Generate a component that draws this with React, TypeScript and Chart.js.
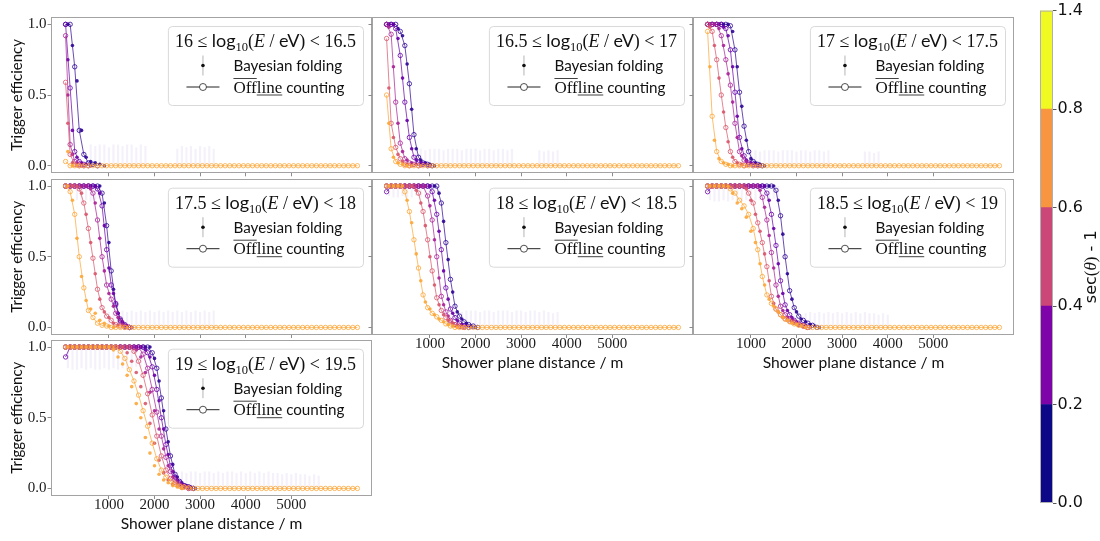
import React, { useEffect, useRef } from 'react';
import { Chart, registerables } from 'chart.js';

Chart.register(...registerables);

// ---------------- data ----------------
// shower plane distance of the Offline counting bins (m)
const DIST_OFFLINE = [
  50, 150, 250, 350, 450, 550, 650, 750, 850, 950,
  1050, 1150, 1250, 1350, 1450, 1550, 1650, 1750, 1850, 1950,
  2050, 2150, 2250, 2350, 2450, 2550, 2650, 2750, 2850, 2950,
  3050, 3150, 3250, 3350, 3450, 3550, 3650, 3750, 3850, 3950,
  4050, 4150, 4250, 4350, 4450, 4550, 4650, 4750, 4850, 4950,
  5050, 5150, 5250, 5350, 5450, 5550, 5650, 5750, 5850, 5950,
  6050, 6150, 6250, 6350, 6450,
];
// shower plane distance of the Bayesian folding points (m)
const DIST_BAYES = [
  100, 200, 300, 400, 500, 600, 700, 800, 900, 1000,
  1100, 1200, 1300, 1400, 1500, 1600, 1700, 1800, 1900, 2000,
  2100, 2200, 2300, 2400, 2500, 2600, 2700, 2800, 2900, 3000,
  3100, 3200, 3300, 3400, 3500, 3600, 3700, 3800, 3900, 4000,
  4100, 4200, 4300, 4400, 4500, 4600, 4700, 4800, 4900, 5000,
  5100, 5200, 5300, 5400, 5500, 5600, 5700, 5800, 5900, 6000,
  6100, 6200, 6300, 6400,
];

const X_TICKS = [1000, 2000, 3000, 4000, 5000];
const X_TICK_LABELS = ['1000', '2000', '3000', '4000', '5000'];
const Y_TICKS = [0, 0.5, 1];
const Y_TICK_LABELS = ['0.0', '0.5', '1.0'];

const ENERGY_LO = ['16', '16.5', '17', '17.5', '18', '18.5', '19'];
const ENERGY_HI = ['16.5', '17', '17.5', '18', '18.5', '19', '19.5'];

// zenith bins, from vertical (navy) to inclined (orange)
const ZENITH_COLORS = ['#2f0596', '#6a00a8', '#a82296', '#d8576b', '#fca636'];

const CB_LABELS = ['0.0', '0.2', '0.4', '0.6', '0.8', '1.4'];
const CB_COLORS = ['#0d0887', '#7e03a8', '#cc4778', '#f89540', '#f0f921'];
const CB_SEGMENTS = [1, 1, 1, 1, 1];

// Offline counting efficiencies, per panel: [navy, purple, magenta, salmon, orange]
const P1_OFFLINE = [
  [1, 1, 0.7, 0.25, 0.08, 0.02, 0.01, 0],
  [1, 0.55, 0.1, 0.03, 0.01, 0],
  [0.92, 0.15, 0.03, 0.01, 0],
  [0.59, 0.08, 0.01, 0],
  [0.03, 0, 0, 0, 0, 0, 0, 0, 0, 0,
    0, 0, 0, 0, 0, 0, 0, 0, 0, 0,
    0, 0, 0, 0, 0, 0, 0, 0, 0, 0,
    0, 0, 0, 0, 0, 0, 0, 0, 0, 0,
    0, 0, 0, 0, 0, 0, 0, 0, 0, 0,
    0, 0, 0, 0, 0, 0, 0, 0, 0, 0,
    0, 0, 0, 0, 0],
];
const P2_OFFLINE = [
  [1, 1, 1, 0.95, 0.85, 0.58, 0.22, 0.06, 0.02, 0.01, 0],
  [1, 1, 0.97, 0.78, 0.45, 0.2, 0.06, 0.02, 0.01, 0],
  [1, 0.93, 0.45, 0.16, 0.05, 0.02, 0.01, 0],
  [0.9, 0.3, 0.13, 0.05, 0.01, 0],
  [0.5, 0.12, 0.03, 0.01, 0, 0, 0, 0, 0, 0,
    0, 0, 0, 0, 0, 0, 0, 0, 0, 0,
    0, 0, 0, 0, 0, 0, 0, 0, 0, 0,
    0, 0, 0, 0, 0, 0, 0, 0, 0, 0,
    0, 0, 0, 0, 0, 0, 0, 0, 0, 0,
    0, 0, 0, 0, 0, 0, 0, 0, 0, 0,
    0, 0, 0, 0, 0],
];
const P3_OFFLINE = [
  [1, 1, 1, 1, 1, 0.99, 0.82, 0.52, 0.28, 0.1, 0.03, 0.01, 0],
  [1, 1, 1, 1, 0.97, 0.82, 0.52, 0.2, 0.07, 0.02, 0.01, 0],
  [1, 1, 1, 0.92, 0.75, 0.57, 0.3, 0.1, 0.04, 0.01, 0],
  [1, 0.95, 0.75, 0.5, 0.27, 0.1, 0.03, 0.01, 0],
  [0.95, 0.35, 0.1, 0.03, 0.01, 0, 0, 0, 0, 0,
    0, 0, 0, 0, 0, 0, 0, 0, 0, 0,
    0, 0, 0, 0, 0, 0, 0, 0, 0, 0,
    0, 0, 0, 0, 0, 0, 0, 0, 0, 0,
    0, 0, 0, 0, 0, 0, 0, 0, 0, 0,
    0, 0, 0, 0, 0, 0, 0, 0, 0, 0,
    0, 0, 0, 0, 0],
];
const P4_OFFLINE = [
  [1, 1, 1, 1, 1, 1, 1, 1, 0.95, 0.72, 0.4, 0.16, 0.05, 0.01, 0],
  [1, 1, 1, 1, 1, 1, 1, 0.98, 0.86, 0.55, 0.3, 0.17, 0.06, 0.02, 0],
  [1, 1, 1, 1, 1, 1, 0.95, 0.76, 0.5, 0.3, 0.2, 0.1, 0.04, 0.01, 0],
  [1, 1, 1, 0.98, 0.88, 0.7, 0.49, 0.27, 0.14, 0.08, 0.05, 0.02, 0.01, 0],
  [1, 0.96, 0.8, 0.5, 0.28, 0.12, 0.07, 0.03, 0.015, 0.01,
    0, 0, 0, 0, 0, 0, 0, 0, 0, 0,
    0, 0, 0, 0, 0, 0, 0, 0, 0, 0,
    0, 0, 0, 0, 0, 0, 0, 0, 0, 0,
    0, 0, 0, 0, 0, 0, 0, 0, 0, 0,
    0, 0, 0, 0, 0, 0, 0, 0, 0, 0,
    0, 0, 0, 0, 0],
];
const P5_OFFLINE = [
  [1, 1, 1, 1, 1, 1, 1, 1, 1, 1, 1, 1, 0.88, 0.6, 0.34, 0.15, 0.08, 0.04, 0.02, 0.01, 0],
  [0.96, 1, 1, 1, 1, 1, 1, 1, 1, 1, 0.96, 0.8, 0.55, 0.28, 0.13, 0.07, 0.03, 0.01, 0],
  [1, 1, 1, 1, 1, 1, 1, 1, 1, 0.93, 0.76, 0.5, 0.22, 0.11, 0.05, 0.02, 0.01, 0],
  [1, 1, 1, 1, 1, 1, 1, 0.95, 0.82, 0.62, 0.4, 0.21, 0.12, 0.07, 0.04, 0.02, 0.01, 0],
  [1, 1, 1, 1, 0.96, 0.82, 0.62, 0.42, 0.23, 0.14,
    0.1, 0.075, 0.05, 0.025, 0.01, 0, 0, 0, 0, 0,
    0, 0, 0, 0, 0, 0, 0, 0, 0, 0,
    0, 0, 0, 0, 0, 0, 0, 0, 0, 0,
    0, 0, 0, 0, 0, 0, 0, 0, 0, 0,
    0, 0, 0, 0, 0, 0, 0, 0, 0, 0,
    0, 0, 0, 0, 0],
];
const P6_OFFLINE = [
  [1, 1, 1, 1, 1, 1, 1, 1, 1, 1, 1, 1, 1, 1, 1, 0.97, 0.79, 0.5, 0.26, 0.14, 0.08, 0.05, 0.03, 0.015, 0],
  [0.96, 1, 1, 1, 1, 1, 1, 1, 1, 1, 1, 1, 1, 0.95, 0.8, 0.58, 0.33, 0.16, 0.09, 0.05, 0.03, 0.015, 0],
  [1, 1, 1, 1, 1, 1, 1, 1, 1, 1, 1, 1, 0.92, 0.76, 0.53, 0.3, 0.15, 0.09, 0.06, 0.04, 0.02, 0.01, 0],
  [1, 1, 1, 1, 1, 1, 1, 1, 1, 0.95, 0.88, 0.74, 0.6, 0.43, 0.22, 0.13, 0.09, 0.06, 0.045, 0.035, 0.02, 0.01, 0],
  [1, 1, 1, 1, 1, 0.98, 0.95, 0.9, 0.86, 0.8,
    0.7, 0.55, 0.36, 0.23, 0.17, 0.13, 0.09, 0.06, 0.04, 0.025,
    0.015, 0.01, 0, 0, 0, 0, 0, 0, 0, 0,
    0, 0, 0, 0, 0, 0, 0, 0, 0, 0,
    0, 0, 0, 0, 0, 0, 0, 0, 0, 0,
    0, 0, 0, 0, 0, 0, 0, 0, 0, 0,
    0, 0, 0, 0, 0],
];
const P7_OFFLINE = [
  [1, 1, 1, 1, 1, 1, 1, 1, 1, 1, 1, 1, 1, 1, 1, 1, 1, 1, 1, 0.96, 0.85, 0.64, 0.42, 0.23, 0.1, 0.05, 0.02, 0.01, 0],
  [0.93, 1, 1, 1, 1, 1, 1, 1, 1, 1, 1, 1, 1, 1, 1, 1, 1, 1, 0.96, 0.86, 0.7, 0.5, 0.31, 0.16, 0.08, 0.04, 0.02, 0.01, 0],
  [1, 1, 1, 1, 1, 1, 1, 1, 1, 1, 1, 1, 1, 1, 1, 1, 1, 0.95, 0.85, 0.7, 0.54, 0.37, 0.22, 0.12, 0.06, 0.03, 0.015, 0],
  [1, 1, 1, 1, 1, 1, 1, 1, 1, 1, 1, 1, 1, 1, 1, 0.97, 0.9, 0.8, 0.67, 0.52, 0.37, 0.23, 0.13, 0.07, 0.04, 0.02, 0.01, 0],
  [1, 1, 1, 1, 1, 1, 1, 1, 1, 1,
    1, 1, 0.97, 0.92, 0.84, 0.76, 0.66, 0.55, 0.44, 0.32,
    0.21, 0.13, 0.08, 0.05, 0.03, 0.015, 0.01, 0.005, 0, 0,
    0, 0, 0, 0, 0, 0, 0, 0, 0, 0,
    0, 0, 0, 0, 0, 0, 0, 0, 0, 0,
    0, 0, 0, 0, 0, 0, 0, 0, 0, 0,
    0, 0, 0, 0, 0],
];

// Bayesian folding efficiencies, per panel: [navy, purple, magenta, salmon, orange]
const P1_BAYES = [
  [1, 0.85, 0.6, 0.25, 0.06, 0.03, 0.02, 0.01, 0],
  [0.75, 0.25, 0.06, 0.02, 0.01, 0],
  [0.5, 0.08, 0.02, 0],
  [0.3, 0.02, 0],
  [0.1, 0],
];
const P2_BAYES = [
  [1, 1, 0.97, 0.92, 0.72, 0.4, 0.12, 0.04, 0.02, 0.01, 0],
  [1, 1, 0.9, 0.62, 0.32, 0.12, 0.04, 0.02, 0.01, 0],
  [0.98, 0.7, 0.3, 0.1, 0.04, 0.02, 0.01, 0],
  [0.55, 0.2, 0.08, 0.03, 0.01, 0],
  [0.3, 0.06, 0.02, 0.01, 0],
];
const P3_BAYES = [
  [1, 1, 1, 1, 1, 0.95, 0.7, 0.42, 0.18, 0.05, 0.02, 0.01, 0],
  [1, 1, 1, 0.98, 0.92, 0.7, 0.35, 0.12, 0.04, 0.02, 0.01, 0],
  [1, 1, 0.97, 0.85, 0.65, 0.45, 0.2, 0.07, 0.03, 0.01, 0],
  [0.98, 0.85, 0.62, 0.38, 0.17, 0.06, 0.02, 0.01, 0],
  [0.7, 0.18, 0.05, 0.02, 0.01, 0],
];
const P4_BAYES = [
  [1, 1, 1, 1, 1, 1, 1, 1, 0.88, 0.6, 0.27, 0.1, 0.03, 0.01, 0],
  [1, 1, 1, 1, 1, 1, 1, 0.95, 0.72, 0.42, 0.24, 0.1, 0.04, 0.01, 0],
  [1, 1, 1, 1, 1, 0.98, 0.88, 0.63, 0.4, 0.24, 0.15, 0.07, 0.02, 0.01, 0],
  [1, 1, 1, 0.95, 0.8, 0.6, 0.38, 0.2, 0.11, 0.07, 0.03, 0.015, 0.01, 0],
  [1, 0.9, 0.63, 0.36, 0.19, 0.13, 0.1, 0.05, 0.03, 0.01, 0],
];
const P5_BAYES = [
  [1, 1, 1, 1, 1, 1, 1, 1, 1, 1, 1, 0.95, 0.75, 0.48, 0.25, 0.11, 0.06, 0.03, 0.01, 0],
  [1, 1, 1, 1, 1, 1, 1, 1, 1, 1, 0.9, 0.68, 0.4, 0.2, 0.1, 0.05, 0.02, 0.01, 0],
  [1, 1, 1, 1, 1, 1, 1, 1, 1, 0.86, 0.62, 0.35, 0.16, 0.08, 0.03, 0.01, 0],
  [1, 1, 1, 1, 1, 1, 0.97, 0.88, 0.72, 0.5, 0.3, 0.16, 0.09, 0.05, 0.03, 0.01, 0],
  [1, 1, 1, 1, 0.9, 0.74, 0.52, 0.33, 0.18, 0.13, 0.09, 0.06, 0.04, 0.02, 0.01, 0],
];
const P6_BAYES = [
  [1, 1, 1, 1, 1, 1, 1, 1, 1, 1, 1, 1, 1, 1, 1, 0.9, 0.66, 0.38, 0.2, 0.11, 0.06, 0.04, 0.02, 0.01, 0],
  [1, 1, 1, 1, 1, 1, 1, 1, 1, 1, 1, 1, 1, 0.9, 0.7, 0.45, 0.24, 0.12, 0.07, 0.04, 0.02, 0.01, 0],
  [1, 1, 1, 1, 1, 1, 1, 1, 1, 1, 1, 0.97, 0.85, 0.65, 0.42, 0.22, 0.12, 0.07, 0.05, 0.03, 0.015, 0],
  [1, 1, 1, 1, 1, 1, 1, 1, 0.98, 0.9, 0.8, 0.68, 0.52, 0.33, 0.17, 0.11, 0.07, 0.05, 0.04, 0.025, 0.015, 0],
  [1, 1, 1, 1, 1, 0.95, 0.88, 0.84, 0.78, 0.68, 0.6, 0.45, 0.3, 0.2, 0.15, 0.11, 0.07, 0.05, 0.03, 0.02, 0.01, 0],
];
const P7_BAYES = [
  [1, 1, 1, 1, 1, 1, 1, 1, 1, 1, 1, 1, 1, 1, 1, 1, 1, 1, 1, 0.92, 0.76, 0.55, 0.33, 0.17, 0.08, 0.04, 0.02, 0.01, 0],
  [1, 1, 1, 1, 1, 1, 1, 1, 1, 1, 1, 1, 1, 1, 1, 1, 1, 0.98, 0.93, 0.8, 0.62, 0.42, 0.24, 0.12, 0.06, 0.03, 0.01, 0],
  [1, 1, 1, 1, 1, 1, 1, 1, 1, 1, 1, 1, 1, 1, 1, 0.98, 0.93, 0.82, 0.68, 0.55, 0.42, 0.28, 0.16, 0.08, 0.04, 0.02, 0.01, 0],
  [1, 1, 1, 1, 1, 1, 1, 1, 1, 1, 1, 1, 1, 0.96, 0.9, 0.82, 0.72, 0.6, 0.46, 0.32, 0.2, 0.11, 0.06, 0.03, 0.015, 0],
  [1, 1, 1, 1, 1, 1, 1, 1, 1, 1, 0.98, 0.93, 0.88, 0.8, 0.72, 0.6, 0.5, 0.36, 0.25, 0.16, 0.1, 0.06, 0.04, 0.02, 0.01, 0],
];

// upper end of the Bayesian uncertainty bars on the zero tail (aligned with DIST_BAYES)
const P1_ERR_HI = [0, 0, 0, 0, 0, 0.15, 0.14, 0.15, 0.15, 0.13, 0.15, 0.15, 0.14, 0.15, 0.15, 0.13, 0.15, 0.14,
  0, 0, 0, 0, 0, 0, 0.12, 0.14, 0.13, 0.14, 0.12, 0.14, 0.13, 0.14, 0.12];
const P2_ERR_HI = [0, 0, 0, 0, 0, 0, 0.12, 0.12, 0.11, 0.12, 0.12, 0.12, 0.11, 0.12, 0.12, 0.12, 0.11, 0.12, 0.12, 0.12,
  0.11, 0.12, 0.12, 0.11, 0.12, 0.12, 0.11, 0.12, 0, 0, 0, 0, 0, 0.11, 0.1, 0.11, 0.1, 0.11];
const P3_ERR_HI = [0, 0, 0, 0, 0, 0, 0, 0, 0, 0.11, 0.11, 0.1, 0.11, 0.11, 0.11, 0.1, 0.11, 0.11, 0.11, 0.1,
  0.11, 0.11, 0.1, 0.11, 0.11, 0.1, 0.11, 0, 0, 0, 0, 0, 0, 0, 0.1, 0.1, 0.09, 0.1];
const P4_ERR_HI = [0, 0, 0, 0, 0, 0, 0, 0, 0, 0.11, 0.12, 0.11, 0.12, 0.11, 0.12, 0.11, 0.12, 0.11, 0.12, 0.11,
  0.12, 0.11, 0.12, 0.11, 0.12, 0.11, 0.12, 0.11, 0.12, 0.11, 0.12, 0.11, 0.12];
const P5_ERR_HI = [0, 0, 0, 0, 0, 0, 0, 0, 0, 0, 0, 0, 0, 0, 0.12, 0.12, 0.11, 0.12, 0.12, 0.12,
  0.11, 0.12, 0.12, 0.11, 0.12, 0.12, 0.12, 0.11, 0.12, 0.12, 0.11, 0.12, 0.12, 0.11, 0.12, 0.11, 0.1, 0.11];
const P6_ERR_HI = [0, 0, 0, 0, 0, 0, 0, 0, 0, 0, 0, 0, 0, 0, 0, 0, 0, 0, 0, 0,
  0, 0.1, 0.11, 0.1, 0.11, 0.1, 0.11, 0.1, 0.11, 0.1, 0.11, 0.1, 0.11, 0.1, 0.11, 0.1, 0.1, 0.09, 0.1, 0.09];
const P7_ERR_HI = [0, 0, 0, 0, 0, 0, 0, 0, 0, 0, 0, 0, 0, 0, 0, 0, 0, 0, 0, 0,
  0, 0, 0, 0, 0.12, 0.12, 0.11, 0.12, 0.12, 0.11, 0.12, 0.12, 0.11, 0.12, 0.11, 0.12, 0.12, 0.11, 0.12, 0.11,
  0.12, 0.11, 0.12, 0.11, 0.12, 0.11, 0.11, 0.1, 0.11, 0.1, 0.11, 0.1, 0.1, 0.09, 0.1, 0.09];

// lower end of the Bayesian uncertainty bars on the plateau (aligned with DIST_BAYES)
const P1_ERR_LO: number[] = [];
const P2_ERR_LO: number[] = [];
const P3_ERR_LO: number[] = [];
const P4_ERR_LO = [1, 1, 0.9, 0.88, 0.9, 0.89, 0.9, 0.92];
const P5_ERR_LO = [0.93, 0.92, 0.92, 0.93, 0.92, 0.92, 0.93, 0.92, 0.93, 0.92, 0.93, 0.94];
const P6_ERR_LO = [0.9, 0.89, 0.89, 0.9, 0.89, 0.9, 0.89, 0.89, 0.9, 0.89, 0.9, 0.9, 0.89, 0.9, 0.91, 0.92];
const P7_ERR_LO = [0.85, 0.84, 0.84, 0.85, 0.84, 0.85, 0.84, 0.84, 0.85, 0.84, 0.85, 0.84, 0.85, 0.84, 0.85, 0.86, 0.86, 0.87, 0.88];

const OFFLINE = [P1_OFFLINE, P2_OFFLINE, P3_OFFLINE, P4_OFFLINE, P5_OFFLINE, P6_OFFLINE, P7_OFFLINE];
const BAYES = [P1_BAYES, P2_BAYES, P3_BAYES, P4_BAYES, P5_BAYES, P6_BAYES, P7_BAYES];
const ERR_HI = [P1_ERR_HI, P2_ERR_HI, P3_ERR_HI, P4_ERR_HI, P5_ERR_HI, P6_ERR_HI, P7_ERR_HI];
const ERR_LO = [P1_ERR_LO, P2_ERR_LO, P3_ERR_LO, P4_ERR_LO, P5_ERR_LO, P6_ERR_LO, P7_ERR_LO];

// ---------------- layout ----------------
const PAGE_W = 1100;
const PAGE_H = 541;
const COL_LEFT = [51, 372, 693];
const COL_W = 321;
const ROW_TOP = [17.3, 179, 340];
const ROW_H = 155.5;
const X_MIN = -270;
const X_MAX = 6770;
const Y_MIN = -0.05;
const Y_MAX = 1.05;

const SERIF = '"Liberation Serif", "DejaVu Serif", serif';
const SANS = 'Lato, "DejaVu Sans", sans-serif';
const FRAME = '#a3a3a3';

type Piece = { t: string; f: string; dy?: number; over?: boolean; under?: boolean };

function piecesWidth(ctx: CanvasRenderingContext2D, pieces: Piece[]) {
  let w = 0;
  for (const p of pieces) {
    ctx.font = p.f;
    w += ctx.measureText(p.t).width;
  }
  return w;
}

function drawPieces(ctx: CanvasRenderingContext2D, pieces: Piece[], x: number, y: number) {
  ctx.textBaseline = 'alphabetic';
  ctx.textAlign = 'left';
  let cx = x;
  for (const p of pieces) {
    ctx.font = p.f;
    const w = ctx.measureText(p.t).width;
    ctx.fillText(p.t, cx, y + (p.dy || 0));
    if (p.over || p.under) {
      ctx.save();
      ctx.strokeStyle = '#111';
      ctx.lineWidth = 0.8;
      ctx.beginPath();
      const ly = p.over ? y - 14 : y + 2.5;
      ctx.moveTo(cx, ly);
      ctx.lineTo(cx + w, ly);
      ctx.stroke();
      ctx.restore();
    }
    cx += w;
  }
}

function roundRectPath(ctx: CanvasRenderingContext2D, x: number, y: number, w: number, h: number, r: number) {
  ctx.beginPath();
  ctx.moveTo(x + r, y);
  ctx.lineTo(x + w - r, y);
  ctx.arcTo(x + w, y, x + w, y + r, r);
  ctx.lineTo(x + w, y + h - r);
  ctx.arcTo(x + w, y + h, x + w - r, y + h, r);
  ctx.lineTo(x + r, y + h);
  ctx.arcTo(x, y + h, x, y + h - r, r);
  ctx.lineTo(x, y + r);
  ctx.arcTo(x, y, x + r, y, r);
  ctx.closePath();
}

function drawLegend(ctx: CanvasRenderingContext2D, ca: any, p: number) {
  const fSer = `18px ${SERIF}`;
  const fSans = `18px ${SANS}`;
  const title: Piece[] = [
    { t: ENERGY_LO[p] + ' ', f: fSer },
    { t: '\u2264', f: fSer },
    { t: ' ', f: fSer },
    { t: 'log', f: fSans },
    { t: '10', f: `12.5px ${SERIF}`, dy: 4 },
    { t: '(', f: fSer },
    { t: 'E', f: `italic 18px ${SERIF}` },
    { t: ' / ', f: fSer },
    { t: 'eV', f: fSans },
    { t: ')', f: fSer },
    { t: ' < ', f: fSer },
    { t: ENERGY_HI[p], f: fSer },
  ];
  const e1: Piece[] = [{ t: 'Bayesian folding', f: `15.2px ${SANS}` }];
  const e2: Piece[] = [
    { t: 'Off', f: `17px ${SERIF}`, over: true },
    { t: 'line', f: `17px ${SERIF}`, under: true },
    { t: ' counting', f: `15.2px ${SANS}` },
  ];
  const tw = piecesWidth(ctx, title);
  const ew = Math.max(piecesWidth(ctx, e1), piecesWidth(ctx, e2));
  const blockW = 47 + ew;
  const boxW = Math.max(tw, blockW) + 14;
  const boxH = 79;
  const right = ca.right - 9;
  const top = ca.top + 8.7;
  const left = right - boxW;
  ctx.save();
  roundRectPath(ctx, left + 0.5, top + 0.5, boxW, boxH, 4);
  ctx.fillStyle = 'rgba(255,255,255,0.8)';
  ctx.fill();
  ctx.strokeStyle = '#d9d9d9';
  ctx.lineWidth = 1;
  ctx.stroke();
  ctx.fillStyle = '#111';
  const cx = left + boxW / 2;
  drawPieces(ctx, title, cx - tw / 2, top + 21);
  const bx = cx - blockW / 2;
  const hx = bx + 16.5;
  // Bayesian folding handle
  const y1 = top + 39.5;
  ctx.strokeStyle = '#b5b5b5';
  ctx.lineWidth = 1;
  ctx.beginPath();
  ctx.moveTo(hx, y1 - 10);
  ctx.lineTo(hx, y1 + 10);
  ctx.stroke();
  ctx.fillStyle = '#111';
  ctx.beginPath();
  ctx.arc(hx, y1, 1.8, 0, Math.PI * 2);
  ctx.fill();
  drawPieces(ctx, e1, bx + 47, y1 + 5.5);
  // Offline counting handle
  const y2 = top + 61;
  ctx.strokeStyle = '#222';
  ctx.lineWidth = 1;
  ctx.beginPath();
  ctx.moveTo(bx, y2);
  ctx.lineTo(bx + 33, y2);
  ctx.stroke();
  ctx.beginPath();
  ctx.arc(hx, y2, 3.5, 0, Math.PI * 2);
  ctx.fillStyle = '#fff';
  ctx.fill();
  ctx.lineWidth = 0.8;
  ctx.stroke();
  ctx.fillStyle = '#111';
  drawPieces(ctx, e2, bx + 47, y2 + 5.5);
  ctx.restore();
}

function panelConfig(p: number) {
  const row = Math.floor(p / 3);
  const col = p % 3;
  const L = COL_LEFT[col];
  const R = L + COL_W;
  const T = ROW_TOP[row];
  const B = T + ROW_H;
  const showX = p >= 4;
  const showY = col === 0;
  const YW = showY ? 46 : 4;
  const XH = showX ? 38 : 4;

  const datasets: any[] = [];
  for (let k = 4; k >= 0; k--) {
    const c = ZENITH_COLORS[k];
    datasets.push({
      data: OFFLINE[p][k].map((v, i) => ({ x: DIST_OFFLINE[i], y: v })),
      borderColor: c + 'cc',
      borderWidth: 0.9,
      pointRadius: 2.2,
      pointBorderWidth: 0.8,
      pointBorderColor: c,
      pointBackgroundColor: 'rgba(0,0,0,0)',
      showLine: true,
      tension: 0,
      fill: false,
    });
    datasets.push({
      data: BAYES[p][k].map((v, i) => ({ x: DIST_BAYES[i], y: v })),
      showLine: false,
      pointRadius: 1.8,
      pointBorderWidth: 0,
      pointBackgroundColor: c + 'e6',
      borderColor: c,
    });
  }

  const hazePlugin = {
    id: 'haze' + p,
    beforeDatasetsDraw(chart: any) {
      const { ctx, chartArea: ca, scales } = chart;
      const xs = scales.x;
      const ys = scales.y;
      ctx.save();
      ctx.beginPath();
      ctx.rect(ca.left, ca.top, ca.right - ca.left, ca.bottom - ca.top);
      ctx.clip();
      ctx.strokeStyle = 'rgba(125, 70, 190, 0.075)';
      ctx.lineWidth = 2.2;
      ERR_HI[p].forEach((v, j) => {
        if (v <= 0) return;
        const px = xs.getPixelForValue(DIST_BAYES[j]);
        ctx.beginPath();
        ctx.moveTo(px, ys.getPixelForValue(0));
        ctx.lineTo(px, ys.getPixelForValue(v));
        ctx.stroke();
      });
      ERR_LO[p].forEach((v, j) => {
        if (v >= 1) return;
        const px = xs.getPixelForValue(DIST_BAYES[j]);
        ctx.beginPath();
        ctx.moveTo(px, ys.getPixelForValue(1));
        ctx.lineTo(px, ys.getPixelForValue(v));
        ctx.stroke();
      });
      ctx.restore();
    },
    afterDraw(chart: any) {
      const { ctx, chartArea: ca } = chart;
      ctx.save();
      ctx.strokeStyle = FRAME;
      ctx.lineWidth = 1;
      ctx.strokeRect(Math.round(ca.left) + 0.5, Math.round(ca.top) + 0.5,
        Math.round(ca.right - ca.left) - 1, Math.round(ca.bottom - ca.top) - 1);
      ctx.restore();
      drawLegend(ctx, ca, p);
    },
  };

  return {
    type: 'line',
    data: { datasets },
    plugins: [hazePlugin],
    options: {
      animation: false,
      responsive: false,
      devicePixelRatio: 1,
      events: [],
      layout: { padding: { left: L - YW, right: PAGE_W - R, top: T, bottom: PAGE_H - B - XH } },
      plugins: { legend: { display: false }, tooltip: { enabled: false }, title: { display: false } },
      scales: {
        x: {
          type: 'linear',
          min: X_MIN,
          max: X_MAX,
          afterBuildTicks: (s: any) => { s.ticks = X_TICKS.map((v) => ({ value: v })); },
          afterFit: (s: any) => { s.height = XH; },
          ticks: {
            display: showX,
            autoSkip: false,
            maxRotation: 0,
            padding: -3,
            color: '#1a1a1a',
            font: { family: SERIF, size: 15 },
            callback: (_v: any, i: number) => X_TICK_LABELS[i],
          },
          grid: { display: true, drawOnChartArea: false, drawTicks: true, tickLength: 3.5, tickColor: '#8c8c8c', color: '#8c8c8c' },
          border: { display: false },
          title: {
            display: showX,
            text: 'Shower plane distance / m',
            color: '#111',
            font: { family: SANS, size: 15.6 },
            padding: { top: 0, bottom: 0 },
          },
        },
        y: {
          type: 'linear',
          min: Y_MIN,
          max: Y_MAX,
          afterBuildTicks: (s: any) => { s.ticks = Y_TICKS.map((v) => ({ value: v })); },
          afterFit: (s: any) => { s.width = YW; },
          ticks: {
            display: showY,
            padding: 1,
            color: '#1a1a1a',
            font: { family: SERIF, size: 15 },
            callback: (_v: any, i: number) => Y_TICK_LABELS[i],
          },
          grid: { display: true, drawOnChartArea: false, drawTicks: true, tickLength: 3.5, tickColor: '#8c8c8c', color: '#8c8c8c' },
          border: { display: false },
          title: {
            display: showY,
            text: 'Trigger efficiency',
            color: '#111',
            font: { family: SANS, size: 15 },
            padding: { top: 3.5, bottom: 0 },
          },
        },
      },
    },
  };
}

// colorbar geometry
const CB_LEFT = 1040;
const CB_RIGHT = 1053;
const CB_TOP = 4;
const CB_BOTTOM = 503;
const CB_AXIS_W = 40;

function colorbarConfig() {
  const cbPlugin = {
    id: 'cbFrame',
    afterDraw(chart: any) {
      const { ctx, chartArea: ca } = chart;
      ctx.save();
      ctx.strokeStyle = '#b0b0b0';
      ctx.lineWidth = 1;
      ctx.strokeRect(ca.left + 0.5, ca.top + 0.5, ca.right - ca.left - 1, ca.bottom - ca.top - 1);
      const pieces: Piece[] = [
        { t: 'sec', f: `16px "DejaVu Sans", sans-serif` },
        { t: '(', f: `17px ${SERIF}` },
        { t: '\u03b8', f: `italic 17px ${SERIF}` },
        { t: ')', f: `17px ${SERIF}` },
        { t: ' - 1', f: `16px "DejaVu Sans", sans-serif` },
      ];
      const w = piecesWidth(ctx, pieces);
      ctx.translate(1090, (ca.top + ca.bottom) / 2 + 10);
      ctx.rotate(-Math.PI / 2);
      ctx.fillStyle = '#111';
      drawPieces(ctx, pieces, -w / 2, 6);
      ctx.restore();
    },
  };
  return {
    type: 'bar',
    data: {
      labels: [''],
      datasets: CB_COLORS.map((c, i) => ({
        data: [CB_SEGMENTS[i]],
        backgroundColor: c,
        borderWidth: 0,
        barPercentage: 1,
        categoryPercentage: 1,
      })),
    },
    plugins: [cbPlugin],
    options: {
      animation: false,
      responsive: false,
      devicePixelRatio: 1,
      events: [],
      layout: { padding: { left: CB_LEFT, right: PAGE_W - CB_RIGHT - CB_AXIS_W, top: CB_TOP, bottom: PAGE_H - CB_BOTTOM } },
      plugins: { legend: { display: false }, tooltip: { enabled: false } },
      scales: {
        x: { stacked: true, display: false },
        y: {
          stacked: true,
          position: 'right',
          min: 0,
          max: 5,
          afterBuildTicks: (s: any) => { s.ticks = CB_LABELS.map((_l, i) => ({ value: i })); },
          afterFit: (s: any) => { s.width = CB_AXIS_W; },
          ticks: {
            padding: 1,
            color: '#111',
            font: { family: '"DejaVu Sans", sans-serif', size: 16 },
            callback: (_v: any, i: number) => CB_LABELS[i],
          },
          grid: { display: true, drawOnChartArea: false, drawTicks: true, tickLength: 3.5, tickColor: '#555', color: '#555' },
          border: { display: false },
        },
      },
    },
  };
}

export default function App() {
  const panelRefs = useRef<(HTMLCanvasElement | null)[]>([]);
  const cbRef = useRef<HTMLCanvasElement | null>(null);

  useEffect(() => {
    const charts: Chart[] = [];
    for (let p = 0; p < 7; p++) {
      const cv = panelRefs.current[p];
      if (cv) charts.push(new Chart(cv, panelConfig(p) as any));
    }
    if (cbRef.current) charts.push(new Chart(cbRef.current, colorbarConfig() as any));
    return () => charts.forEach((c) => c.destroy());
  }, []);

  const canvasStyle: React.CSSProperties = { position: 'absolute', left: 0, top: 0, width: PAGE_W, height: PAGE_H };
  return (
    <div style={{ position: 'absolute', left: 0, top: 0, width: PAGE_W, height: PAGE_H, background: '#fff', overflow: 'hidden' }}>
      {[0, 1, 2, 3, 4, 5, 6].map((p) => (
        <canvas key={p} ref={(el) => { panelRefs.current[p] = el; }} width={PAGE_W} height={PAGE_H} style={canvasStyle} />
      ))}
      <canvas ref={cbRef} width={PAGE_W} height={PAGE_H} style={canvasStyle} />
    </div>
  );
}
